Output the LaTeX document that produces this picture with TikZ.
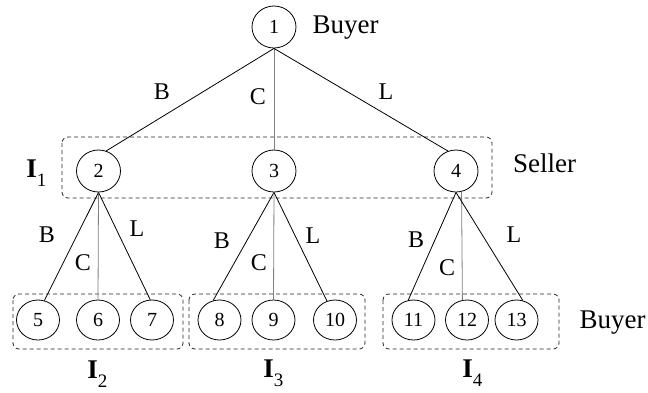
\documentclass[tikz,border=0pt]{standalone}
\usepackage{fontspec}
\setmainfont{Liberation Serif}
\usetikzlibrary{shapes.geometric}
\definecolor{cgray}{gray}{0.5}
\newcommand{\infoset}[1]{\textbf{I}\raisebox{-9pt}{\fontsize{19}{19}\selectfont #1}}

\begin{document}
\begin{tikzpicture}[x=1pt,y=-1pt,line width=0.8pt,
  state/.style={draw, ellipse, minimum width=44pt, minimum height=42pt, inner sep=0pt, font=\fontsize{20}{20}\selectfont},
  leaf/.style={state, minimum width=43pt, minimum height=40pt},
  act/.style={font=\fontsize{24}{24}\selectfont, inner sep=0pt},
  who/.style={font=\fontsize{27}{27}\selectfont, inner sep=0pt, anchor=base},
  iset/.style={draw=black!85, dash pattern=on 4pt off 3pt, rounded corners=6pt},
  isname/.style={font=\fontsize{27}{27}\selectfont, inner sep=0pt, anchor=base west}]
\useasboundingbox (0,0) rectangle (648,392);
\draw[iset] (62,137) rectangle (492,198);
\draw[iset] (13,294) rectangle (183,349);
\draw[iset] (189,294) rectangle (365,349);
\draw[iset] (383,294) rectangle (559,349);
\node[state] (n1) at (274,27) {1};
\node[state] (n2) at (98.5,171) {2};
\node[state] (n3) at (274,171) {3};
\node[state] (n4) at (456,171) {4};
\foreach \i/\x in {5/38,6/98,7/152,8/219.5,9/273.5,10/335,11/413.5,12/467,13/516.5} {
    \node[leaf] (n\i) at (\x,320) {\i};
}
\node[who] (buyer1) at (345.5,33) {Buyer};
\node[who] (seller) at (544.5,172) {Seller};
\node[who] (buyer2) at (612.5,328) {Buyer};
\node[isname] (is1) at (26,177) {\infoset{1}};
\node[isname] (is2) at (87,378) {\infoset{2}};
\node[isname] (is3) at (263,377) {\infoset{3}};
\node[isname] (is4) at (462,377) {\infoset{4}};
\draw (n1.south) -- (n2.69);
\draw[cgray] (n1.south) -- (n3.north);
\draw (n1.south) -- (n4.112);
\draw (n2.south) -- (n5.72);
\draw[cgray] (n2.south) -- (n6.north);
\draw (n2.south) -- (n7.95);
\draw (n3.south) -- (n8.108);
\draw[cgray] (n3.south) -- (n9.north);
\draw (n3.south) -- (n10.113);
\draw (n4.south) -- (n11.105);
\draw[cgray] (n4.285) -- (n12.103);
\draw (n4.south) -- (n13.72);
\node[act] (b1) at (162,92) {B};
\node[act] (c1) at (258,97) {C};
\node[act] (l1) at (386,92) {L};
\node[act] (b2) at (47,235) {B};
\node[act] (c2) at (83,263) {C};
\node[act] (l2) at (137,229) {L};
\node[act] (b3) at (222,241) {B};
\node[act] (c3) at (259,263) {C};
\node[act] (l3) at (313,236) {L};
\node[act] (b4) at (416,240) {B};
\node[act] (c4) at (447,268) {C};
\node[act] (l4) at (514,235) {L};
\end{tikzpicture}
\end{document}
